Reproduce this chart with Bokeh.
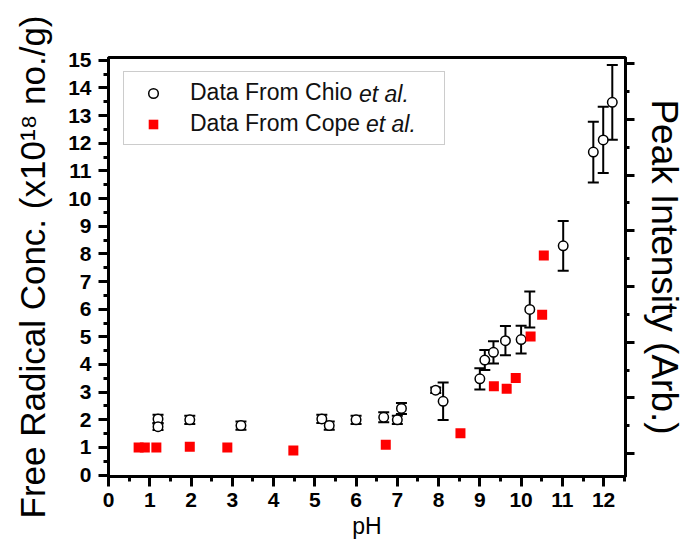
from bokeh.plotting import figure
from bokeh.models import (Range1d, LinearAxis, FixedTicker, Whisker, TeeHead,
                          ColumnDataSource, Legend, LegendItem, CustomJSTickFormatter)
from bokeh.embed import file_html
from bokeh.resources import INLINE

# Data From Chio et al. (open circles with error bars)
chio_ph = [1.20, 1.20, 1.97, 3.21, 5.17, 5.35, 6.00, 6.67, 7.00, 7.10, 7.93, 8.11,
           9.00, 9.12, 9.33, 9.62, 10.00, 10.21, 11.02, 11.75, 11.99, 12.21]
chio_conc = [2.03, 1.75, 2.00, 1.79, 2.03, 1.79, 2.00, 2.09, 2.00, 2.41, 3.07, 2.67,
             3.48, 4.16, 4.44, 4.86, 4.90, 5.99, 8.29, 11.68, 12.12, 13.48]
chio_err = [0.15, 0.12, 0.15, 0.15, 0.15, 0.15, 0.15, 0.18, 0.15, 0.20, 0.10, 0.68,
            0.38, 0.36, 0.40, 0.53, 0.50, 0.65, 0.90, 1.10, 1.20, 1.35]

# Data From Cope et al. (red squares)
cope_ph = [0.73, 0.88, 1.16, 1.97, 2.88, 4.48, 6.72, 8.53, 9.34, 9.65, 9.87,
           10.23, 10.51, 10.55]
cope_conc = [1.00, 1.00, 1.00, 1.03, 1.00, 0.89, 1.10, 1.51, 3.21, 3.12, 3.51,
             5.01, 5.80, 7.94]

x_ticks = list(range(0, 13))
y_ticks = list(range(0, 16))
right_ticks = list(range(0, 8))

FONT = "Liberation Sans"

p = figure(width=688, height=549, output_backend="svg", toolbar_location=None,
           x_range=Range1d(0, 12.53), y_range=Range1d(-0.05, 15.1),
           min_border_left=108, min_border_right=63, min_border_top=57,
           min_border_bottom=73)
p.xgrid.visible = False
p.ygrid.visible = False
p.outline_line_color = "black"
p.outline_line_width = 3
p.outline_line_alpha = 1
p.background_fill_color = "white"
p.border_fill_color = "white"

def style_axis(ax, major, minor):
    ax.ticker = FixedTicker(ticks=major, minor_ticks=minor)
    ax.axis_line_width = 3
    ax.axis_line_color = "black"
    ax.major_tick_line_width = 3
    ax.minor_tick_line_width = 3
    ax.major_tick_in = 0
    ax.minor_tick_in = 0
    ax.major_tick_out = 10
    ax.minor_tick_out = 5
    ax.major_label_text_font = FONT
    ax.major_label_text_font_style = "bold"
    ax.major_label_text_font_size = "21px"
    ax.major_label_text_color = "black"
    ax.axis_label_text_font = FONT
    ax.axis_label_text_font_style = "normal"
    ax.axis_label_text_color = "black"

style_axis(p.xaxis[0], x_ticks, [t + 0.5 for t in x_ticks])
p.xaxis[0].axis_label = "pH"
p.xaxis[0].axis_label_text_font_size = "23px"
p.xaxis[0].major_label_standoff = 6
p.xaxis[0].axis_label_standoff = 3

style_axis(p.yaxis[0], y_ticks, [t + 0.5 for t in y_ticks])
p.yaxis[0].axis_label = "Free Radical Conc. (x10\u00b9\u2078 no./g)"
p.yaxis[0].axis_label_text_font_size = "35px"
p.yaxis[0].major_label_standoff = 7
p.yaxis[0].axis_label_standoff = 13

p.extra_y_ranges = {"right": Range1d(-0.41, 7.11)}
rax = LinearAxis(y_range_name="right")
style_axis(rax, right_ticks, [t + 0.5 for t in right_ticks])
rax.major_tick_out = 9
rax.minor_tick_out = 4
rax.formatter = CustomJSTickFormatter(code="return ''")
rax.major_label_text_font_size = "1px"
rax.major_label_standoff = 0
rax.axis_label = "Peak Intensity (Arb.)"
rax.axis_label_text_font_size = "37px"
rax.axis_label_standoff = 9
p.add_layout(rax, "right")

src = ColumnDataSource(dict(
    x=chio_ph, y=chio_conc,
    upper=[c + e for c, e in zip(chio_conc, chio_err)],
    lower=[c - e for c, e in zip(chio_conc, chio_err)],
))
wh = Whisker(source=src, base="x", upper="upper", lower="lower",
             line_color="black", line_width=2, level="underlay",
             upper_head=TeeHead(size=11, line_width=2, line_color="black"),
             lower_head=TeeHead(size=11, line_width=2, line_color="black"))
p.add_layout(wh)

r_chio = p.scatter("x", "y", source=src, marker="circle", size=9.5,
                   fill_color="white", line_color="black", line_width=1.5)
r_cope = p.scatter(cope_ph, cope_conc, marker="square", size=10,
                   fill_color="red", line_color="red", line_width=0)
r_blank = p.scatter([], [], marker="circle", size=1, fill_alpha=0, line_alpha=0)

legend = Legend(items=[LegendItem(label="Data From Chio", renderers=[r_chio]),
                       LegendItem(label="Data From Cope", renderers=[r_cope])],
                location=(15, 331), orientation="vertical",
                label_text_font=FONT, label_text_font_size="23px",
                label_text_color="#111111", label_width=247,
                border_line_color="#999999", border_line_width=1.5,
                background_fill_color="white", background_fill_alpha=1,
                padding=7, spacing=4, glyph_width=44, glyph_height=24,
                label_standoff=15, label_height=24, margin=0)
p.add_layout(legend, "center")

def etal(loc):
    return Legend(items=[LegendItem(label="et al.", renderers=[r_blank])],
                  location=loc, label_text_font=FONT, label_text_font_size="23px",
                  label_text_font_style="italic", label_text_color="#111111",
                  border_line_alpha=0, background_fill_alpha=0,
                  padding=0, spacing=0, glyph_width=0, glyph_height=1,
                  label_standoff=0, label_height=24, margin=0)

p.add_layout(etal((251, 368)), "center")
p.add_layout(etal((258, 338)), "center")

open("out.html", "w").write(file_html(p, INLINE))
